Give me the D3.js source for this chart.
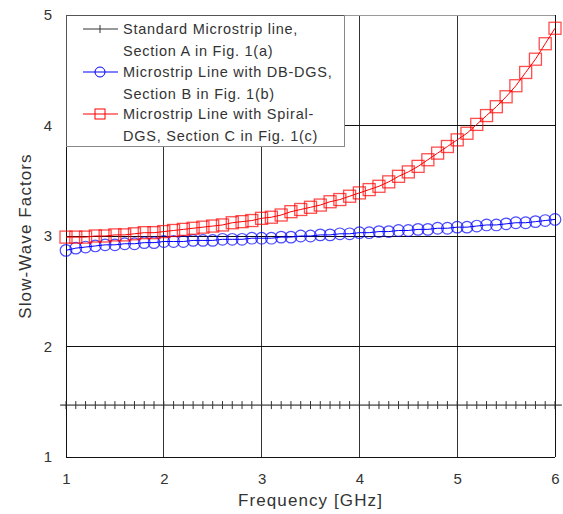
<!DOCTYPE html>
<html>
<head>
<meta charset="utf-8">
<script src="https://cdn.jsdelivr.net/npm/d3@7"></script>
<style>
html,body{margin:0;padding:0;background:#fff;}
svg{display:block;font-family:"Liberation Sans",Arial,sans-serif;}
</style>
</head>
<body>
<svg id="chart" width="563" height="514"></svg>
<script>
const frequency = [1.0,1.1,1.2,1.3,1.4,1.5,1.6,1.7,1.8,1.9,2.0,2.1,2.2,2.3,2.4,2.5,2.6,2.7,2.8,2.9,3.0,3.1,3.2,3.3,3.4,3.5,3.6,3.7,3.8,3.9,4.0,4.1,4.2,4.3,4.4,4.5,4.6,4.7,4.8,4.9,5.0,5.1,5.2,5.3,5.4,5.5,5.6,5.7,5.8,5.9,6.0];
const standardLine = [1.47,1.47,1.47,1.47,1.47,1.47,1.47,1.47,1.47,1.47,1.47,1.47,1.47,1.47,1.47,1.47,1.47,1.47,1.47,1.47,1.47,1.47,1.47,1.47,1.47,1.47,1.47,1.47,1.47,1.47,1.47,1.47,1.47,1.47,1.47,1.47,1.47,1.47,1.47,1.47,1.47,1.47,1.47,1.47,1.47,1.47,1.47,1.47,1.47,1.47,1.47];
const dbDgs = [2.87,2.89,2.90,2.91,2.92,2.92,2.93,2.93,2.94,2.94,2.95,2.95,2.95,2.96,2.96,2.96,2.97,2.97,2.97,2.98,2.98,2.98,2.99,2.99,3.00,3.00,3.01,3.01,3.02,3.02,3.03,3.03,3.04,3.04,3.05,3.05,3.06,3.06,3.07,3.07,3.08,3.08,3.09,3.10,3.10,3.11,3.12,3.12,3.13,3.14,3.15];
const spiralDgs = [2.99,2.99,2.99,3.00,3.00,3.01,3.01,3.02,3.03,3.03,3.04,3.05,3.06,3.07,3.08,3.09,3.10,3.12,3.13,3.14,3.16,3.17,3.19,3.22,3.24,3.26,3.28,3.31,3.33,3.36,3.39,3.42,3.45,3.49,3.54,3.58,3.63,3.69,3.75,3.81,3.87,3.93,4.01,4.09,4.17,4.26,4.36,4.48,4.60,4.74,4.88];
const xTicks = [1,2,3,4,5,6];
const yTicks = [1,2,3,4,5];
const legendLabels = [
  ["Standard Microstrip line,","Section A in Fig. 1(a)"],
  ["Microstrip Line with DB-DGS,","Section B in Fig. 1(b)"],
  ["Microstrip Line with Spiral-","DGS, Section C in Fig. 1(c)"]
];
const xTitle = "Frequency [GHz]";
const yTitle = "Slow-Wave Factors";

const svg = d3.select("#chart");
const L = 66, R = 555, T = 15, B = 457;
const x = d3.scaleLinear().domain([1,6]).range([L,R]);
const y = d3.scaleLinear().domain([1,5]).range([B,T]);

// grid
const g = svg.append("g");
g.selectAll(".vg").data(xTicks).join("line")
  .attr("x1",d=>x(d)).attr("x2",d=>x(d)).attr("y1",T).attr("y2",B)
  .attr("stroke",d=>(d===1||d===6)?"#111":"#333").attr("stroke-width",1).attr("shape-rendering","crispEdges");
g.selectAll(".hg").data(yTicks).join("line")
  .attr("x1",L).attr("x2",R).attr("y1",d=>y(d)).attr("y2",d=>y(d))
  .attr("stroke",d=>d===5?"#999":"#111").attr("stroke-width",1).attr("shape-rendering","crispEdges");

// axes labels via d3 axes
const xAxis = d3.axisBottom(x).tickValues(xTicks).tickFormat(d3.format("d")).tickSize(0).tickPadding(0);
const xa = svg.append("g").attr("transform",`translate(0,${B+27})`).call(xAxis);
xa.select(".domain").remove();
xa.selectAll("text").attr("font-size",15).attr("fill","#333").attr("dy",0).attr("font-family","Liberation Sans, Arial, sans-serif");
const yAxis = d3.axisLeft(y).tickValues(yTicks).tickFormat(d3.format("d")).tickSize(0).tickPadding(0);
const ya = svg.append("g").attr("transform",`translate(${L-14},0)`).call(yAxis);
ya.select(".domain").remove();
ya.selectAll("text").attr("font-size",15).attr("fill","#333").attr("font-family","Liberation Sans, Arial, sans-serif");

svg.append("text").attr("x",(L+R)/2).attr("y",506).attr("text-anchor","middle")
  .attr("font-size",17).attr("letter-spacing","1.1px").attr("fill","#333").text(xTitle);
svg.append("text").attr("transform",`translate(31,${(T+B)/2}) rotate(-90)`).attr("text-anchor","middle")
  .attr("font-size",17).attr("letter-spacing","1.1px").attr("fill","#333").text(yTitle);

const line = d3.line().x(d=>x(d[0])).y(d=>y(d[1]));
const pts = arr => frequency.map((f,i)=>[f,arr[i]]);

// standard line
const stdPts = pts(standardLine);
svg.append("path").datum([[0.94,standardLine[0]],...stdPts,[6.07,standardLine[standardLine.length-1]]])
  .attr("d",line).attr("fill","none").attr("stroke","#111").attr("stroke-width",1);
svg.selectAll(".plus").data(stdPts).join("line")
  .attr("x1",d=>x(d[0])).attr("x2",d=>x(d[0]))
  .attr("y1",d=>y(d[1])-4).attr("y2",d=>y(d[1])+4)
  .attr("stroke","#333").attr("stroke-width",1);

// DB-DGS blue
const bluePts = pts(dbDgs);
svg.append("path").datum(bluePts).attr("d",line).attr("fill","none").attr("stroke","#0000ff").attr("stroke-width",1);
svg.selectAll(".circ").data(bluePts).join("circle")
  .attr("cx",d=>x(d[0])).attr("cy",d=>y(d[1])).attr("r",5.8)
  .attr("fill","none").attr("stroke","#0000ff").attr("stroke-opacity",0.7).attr("stroke-width",1.2);

// Spiral red
const redPts = pts(spiralDgs);
svg.append("path").datum(redPts).attr("d",line).attr("fill","none").attr("stroke","#ff0000").attr("stroke-width",1);
svg.selectAll(".sq").data(redPts).join("rect")
  .attr("x",d=>x(d[0])-6).attr("y",d=>y(d[1])-6).attr("width",12).attr("height",12)
  .attr("fill","none").attr("stroke","#ff0000").attr("stroke-opacity",0.7).attr("stroke-width",1.3);

// legend
const lg = svg.append("g");
lg.append("rect").attr("x",L).attr("y",T).attr("width",344-L).attr("height",146-T)
  .attr("fill","#fff").attr("stroke","#555").attr("stroke-width",1).attr("shape-rendering","crispEdges");
lg.append("line").attr("x1",L).attr("x2",345).attr("y1",146.5).attr("y2",146.5).attr("stroke","#888");
lg.append("line").attr("x1",344.5).attr("x2",344.5).attr("y1",T).attr("y2",147).attr("stroke","#888");
const legColors = ["#333","#0000ff","#ff0000"];
const rowY = [29,72,114];
legendLabels.forEach((lbl,i)=>{
  const cy = rowY[i];
  lg.append("line").attr("x1",83).attr("x2",118).attr("y1",cy).attr("y2",cy)
    .attr("stroke",legColors[i]).attr("stroke-width",1);
  if(i===0){
    lg.append("line").attr("x1",100).attr("x2",100).attr("y1",cy-4).attr("y2",cy+4).attr("stroke","#333");
  } else if(i===1){
    lg.append("circle").attr("cx",100).attr("cy",cy).attr("r",5).attr("fill","none").attr("stroke",legColors[i]);
  } else {
    lg.append("rect").attr("x",95).attr("y",cy-5).attr("width",10).attr("height",10).attr("fill","none").attr("stroke",legColors[i]);
  }
  lbl.forEach((t,j)=>{
    lg.append("text").attr("x",123).attr("y",cy+5+j*21.5).attr("font-size",14.5)
      .attr("letter-spacing","0.75px").attr("fill","#333").text(t);
  });
});
</script>
</body>
</html>
